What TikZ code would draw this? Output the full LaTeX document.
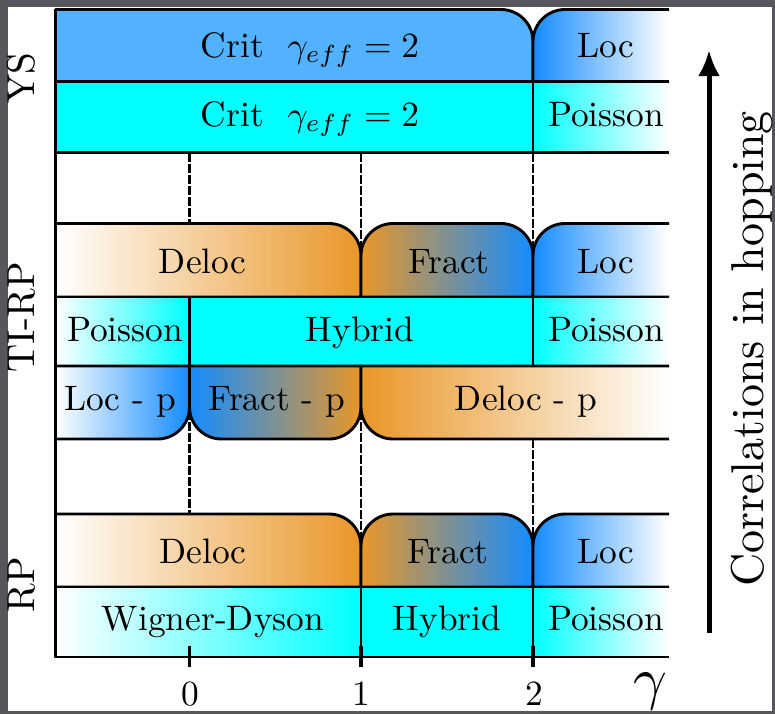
\RequirePackage{fix-cm}
\documentclass[tikz,border=0pt]{standalone}
\usetikzlibrary{arrows.meta}
\definecolor{critblue}{RGB}{82,178,255}
\definecolor{locblue}{RGB}{20,140,255}
\definecolor{orng}{RGB}{233,150,40}
\definecolor{cyn}{RGB}{0,255,255}
\definecolor{framegray}{RGB}{88,86,92}
\begin{document}
\begin{tikzpicture}[x=0.5pt,y=-0.5pt,line join=round,
  box/.style={draw=black,line width=1.45pt},
  dsh/.style={draw=black,line width=1.45pt,dash pattern=on 4.5pt off 1pt},
  lbl/.style={font=\fontsize{10}{12}\selectfont,scale=1.77,inner sep=0pt,anchor=base},
  side/.style={font=\fontsize{10}{12}\selectfont,scale=1.95,inner sep=0pt,anchor=base,rotate=90},
  rc/.style={rounded corners=16pt}]
% frame
\fill[framegray] (0,0) rectangle (775,714);
\fill[white] (8,7) rectangle (772,711);
\useasboundingbox (0,0) rectangle (775,714);
% dashed guide lines (behind the boxes)
\coordinate (g1a) at (189.5,152.5); \coordinate (g1b) at (189.5,223.5);
\coordinate (g2a) at (361,152.5);   \coordinate (g2b) at (361,262);
\coordinate (g3a) at (533,152.5);   \coordinate (g3b) at (533,262);
\coordinate (h1a) at (189.5,400);   \coordinate (h1b) at (189.5,514);
\coordinate (h2a) at (361,400);     \coordinate (h2b) at (361,552);
\coordinate (h3a) at (533,439);     \coordinate (h3b) at (533,552);
\draw[dsh] (g1a) -- (g1b);
\draw[dsh] (g2a) -- (g2b);
\draw[dsh] (g3a) -- (g3b);
\draw[dsh] (h1a) -- (h1b);
\draw[dsh] (h2a) -- (h2b);
\draw[dsh] (h3a) -- (h3b);
% ---------------- YS ----------------
\path[box,fill=critblue] (55.5,81.5) -- (55.5,9.5) [rc] -- (533,9.5) [sharp corners] -- (533,81.5) -- cycle;
\shade[left color=locblue,right color=white] (533,81.5) [rc] -- (533,9.5) [sharp corners] -- (669,9.5) -- (669,81.5) -- cycle;
\draw[box] (669,81.5) -- (533,81.5) [rc] -- (533,9.5) [sharp corners] -- (669,9.5);
\path[box,fill=cyn] (55.5,81.5) rectangle (533,152.5);
\shade[left color=cyn,right color=white] (533,81.5) rectangle (669,152.5);
\draw[box] (669,81.5) -- (533,81.5) -- (533,152.5) -- (669,152.5);
% ---------------- TI-RP ----------------
\path[box,left color=white,right color=orng] (55.5,297) -- (55.5,223.5) [rc] -- (361,223.5) [sharp corners] -- (361,297) -- cycle;
\path[box,left color=orng,right color=locblue] (361,297) [rc] -- (361,223.5) -- (533,223.5) [sharp corners] -- (533,297) -- cycle;
\shade[left color=locblue,right color=white] (533,297) [rc] -- (533,223.5) [sharp corners] -- (669,223.5) -- (669,297) -- cycle;
\draw[box] (669,297) -- (533,297) [rc] -- (533,223.5) [sharp corners] -- (669,223.5);
\path[box,left color=white,right color=cyn] (55.5,297) rectangle (189.5,366);
\path[box,fill=cyn] (189.5,297) rectangle (533,366);
\shade[left color=cyn,right color=white] (533,297) rectangle (669,366);
\draw[box] (669,297) -- (533,297) -- (533,366) -- (669,366);
\path[box,left color=white,right color=locblue] (55.5,366) -- (189.5,366) [rc] -- (189.5,439) [sharp corners] -- (55.5,439) -- cycle;
\path[box,left color=locblue,right color=orng] (189.5,366) -- (361,366) [rc] -- (361,439) -- (189.5,439) [sharp corners] -- cycle;
\shade[left color=orng,right color=white] (361,366) -- (669,366) -- (669,439) [rc] -- (361,439) [sharp corners] -- cycle;
\draw[box] (669,439) [rc] -- (361,439) [sharp corners] -- (361,366) -- (669,366);
% ---------------- RP ----------------
\path[box,left color=white,right color=orng] (55.5,587) -- (55.5,514) [rc] -- (361,514) [sharp corners] -- (361,587) -- cycle;
\path[box,left color=orng,right color=locblue] (361,587) [rc] -- (361,514) -- (533,514) [sharp corners] -- (533,587) -- cycle;
\shade[left color=locblue,right color=white] (533,587) [rc] -- (533,514) [sharp corners] -- (669,514) -- (669,587) -- cycle;
\draw[box] (669,587) -- (533,587) [rc] -- (533,514) [sharp corners] -- (669,514);
\path[box,left color=white,right color=cyn] (55.5,587) rectangle (361,657);
\path[box,fill=cyn] (361,587) rectangle (533,657);
\shade[left color=cyn,right color=white] (533,587) rectangle (669,657);
\draw[box] (669,587) -- (533,587) -- (533,657) -- (669,657);
% axis
\coordinate (axTop) at (55.5,9.5); \coordinate (axO) at (55.5,657); \coordinate (axR) at (669,657);
\draw[box] (axTop) -- (axO) -- (axR);
\coordinate (t0a) at (189.5,646); \coordinate (t0b) at (189.5,667);
\coordinate (t1a) at (361,646);   \coordinate (t1b) at (361,667);
\coordinate (t2a) at (533,646);   \coordinate (t2b) at (533,667);
\draw[line width=1.7pt] (t0a) -- (t0b);
\draw[line width=1.7pt] (t1a) -- (t1b);
\draw[line width=1.7pt] (t2a) -- (t2b);
\node[lbl] (x0) at (190,705) {0};
\node[lbl] (x1) at (361,705) {1};
\node[lbl] (x2) at (534,705) {2};
\node[lbl,scale=2.95/1.77] (gam) at (650,698) {$\gamma$};
% labels
\node[lbl] (ysA) at (310,57) {Crit\ \ $\gamma_{eff}=2$};
\node[lbl] (ysB) at (310,126) {Crit\ \ $\gamma_{eff}=2$};
\node[lbl] (ysC) at (606,57) {Loc};
\node[lbl] (ysD) at (606,126) {Poisson};
\node[lbl] (tA) at (202.5,273) {Deloc};
\node[lbl] (tB) at (449,273) {Fract};
\node[lbl] (tC) at (606,273) {Loc};
\node[lbl] (tD) at (125,341.5) {Poisson};
\node[lbl] (tE) at (360,341.5) {Hybrid};
\node[lbl] (tF) at (606,341.5) {Poisson};
\node[lbl] (tG) at (120,410) {Loc - p};
\node[lbl] (tH) at (277,410) {Fract - p};
\node[lbl] (tI) at (526,410) {Deloc - p};
\node[lbl] (rA) at (203,563) {Deloc};
\node[lbl] (rB) at (448,563) {Fract};
\node[lbl] (rC) at (606,563) {Loc};
\node[lbl] (rD) at (213,630) {Wigner-Dyson};
\node[lbl] (rE) at (447,630) {Hybrid};
\node[lbl] (rF) at (606,630) {Poisson};
% side labels
\node[side] (sYS) at (34,78) {YS};
\node[side] (sTI) at (34,317) {TI-RP};
\node[side] (sRP) at (34,585) {RP};
% arrow
\coordinate (arS) at (709,633); \coordinate (arE) at (709,50);
\draw[line width=2.5pt,-{Latex[length=13pt,width=11pt]}] (arS) -- (arE);
\node[side,scale=2.3/1.95] (corr) at (763,349) {Correlations in hopping};
\end{tikzpicture}
\end{document}
